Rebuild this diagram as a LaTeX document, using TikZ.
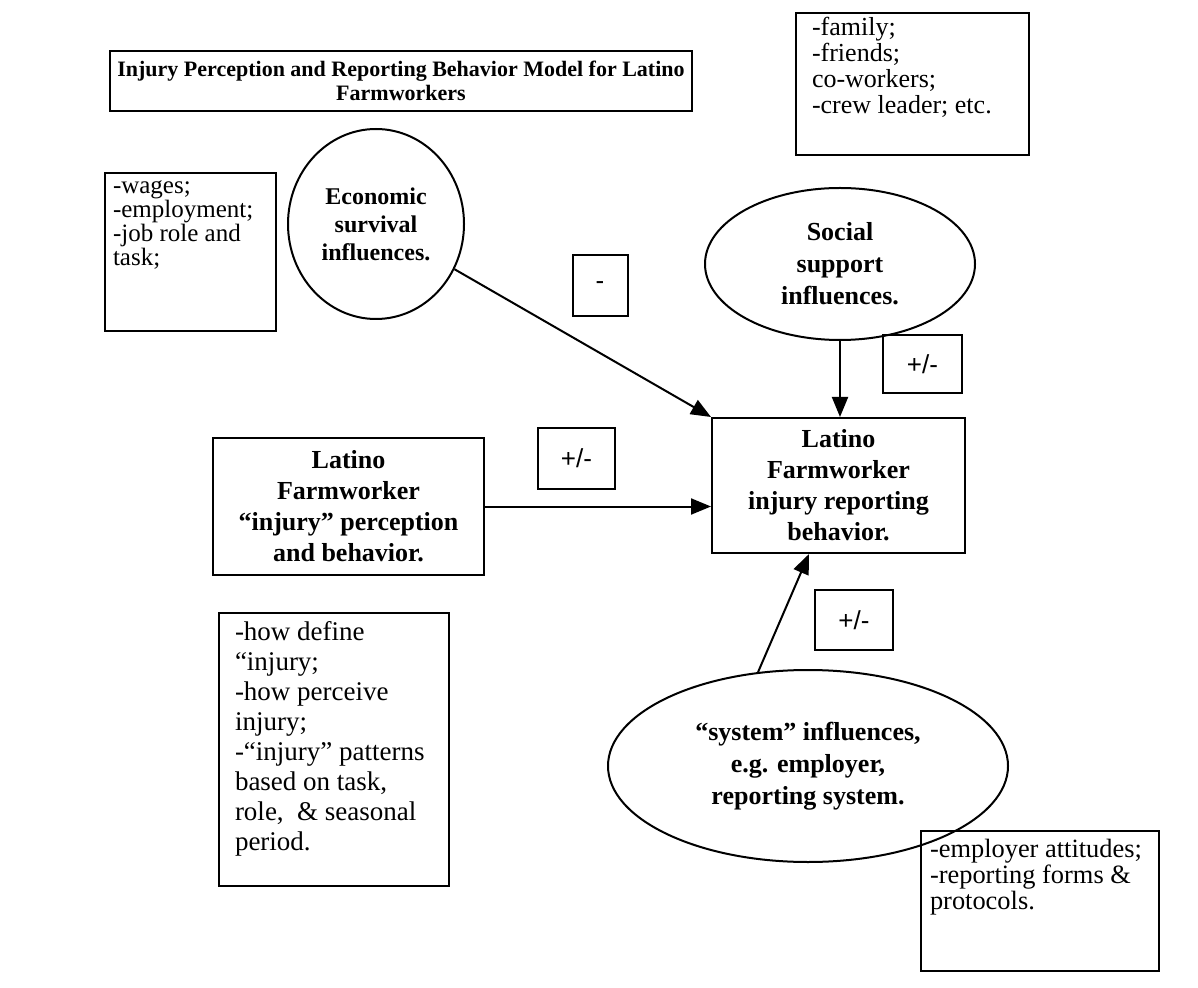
\documentclass[tikz,border=0pt]{standalone}
\usepackage{fontspec}
\setmainfont{Liberation Serif}
\setsansfont{Liberation Sans}
\usetikzlibrary{shapes.geometric}
\usetikzlibrary{arrows.meta}

\newcommand{\notetext}[3]{\parbox[c][#2][t]{#1}{\raggedright #3}}

\begin{document}
\begin{tikzpicture}[x=0.5pt,y=-0.5pt,line width=1pt,
  >={Triangle[length=10pt,width=8pt]},
  box/.style={draw,rectangle,align=center,font=\bfseries\fontsize{13}{15.5}\selectfont},
  oval/.style={draw,ellipse,align=center,inner sep=0pt,font=\bfseries\fontsize{13}{16}\selectfont},
  note/.style={draw,rectangle,anchor=north west,inner xsep=8pt,inner ysep=4pt,font=\fontsize{13}{13}\selectfont},
  sign/.style={draw,rectangle,inner sep=0pt,font=\sffamily\fontsize{13}{15}\selectfont}]
\path[use as bounding box] (0,0) rectangle (1198,988);

\node[box,minimum width=291pt,minimum height=30pt,inner sep=2pt,
      font=\bfseries\fontsize{11}{12}\selectfont] (T) at (401,81)
      {Injury Perception and Reporting Behavior Model for Latino\\Farmworkers};

\node[note,inner ysep=2pt,font=\fontsize{13}{13}\selectfont] (F) at (795,12) {\notetext{100.5pt}{67pt}{-family;\\-friends;\\co-workers;\\-crew leader; etc.}};
\node[note,inner xsep=4pt,font=\fontsize{12.5}{12}\selectfont] (W) at (104,172) {\notetext{77.5pt}{71pt}{-wages;\\-employment;\\-job role and\\task;}};
\node[note,font=\fontsize{13.5}{15}\selectfont] (D) at (218,612) {\notetext{99pt}{128.5pt}{-how define\\“injury;\\-how perceive\\injury;\\-“injury” patterns\\based on task,\\role,~ \& seasonal\\period.}};
\node[note,inner xsep=4.5pt,font=\fontsize{13.2}{13}\selectfont] (K) at (920,830) {\notetext{110pt}{62pt}{-employer attitudes;\\-reporting forms \&\\protocols.}};

\node[oval,minimum width=88pt,minimum height=95pt,font=\bfseries\fontsize{12}{14}\selectfont] (E) at (376,224) {Economic\\survival\\influences.};
\node[oval,minimum width=135pt,minimum height=76pt] (S) at (840,264) {Social\\support\\influences.};
\node[oval,minimum width=200pt,minimum height=96pt] (Y) at (808,766) {“system” influences,\\e.g. employer,\\reporting system.};

\node[box,minimum width=126.5pt,minimum height=67.5pt] (R) at (838.5,485.5) {Latino\\Farmworker\\injury reporting\\behavior.};
\node[box,minimum width=135.5pt,minimum height=68.5pt] (P) at (348.5,506.5) {Latino\\Farmworker\\“injury” perception\\and behavior.};

\node[sign,minimum width=27.5pt,minimum height=30.5pt] (N) at (600,286) {-};
\node[sign,minimum width=38.5pt,minimum height=30.5pt] (G) at (576.5,458.5) {+/-};
\node[sign,minimum width=39.5pt,minimum height=29pt] (H) at (922.5,364) {+/-};
\node[sign,minimum width=39pt,minimum height=30pt] (J) at (854,620) {+/-};

\path[->] (E) edge (R.north west)
          (S) edge (S |- R.north)
          (P) edge (P -| R.west)
          (Y.118) edge (R);

\end{tikzpicture}
\end{document}
